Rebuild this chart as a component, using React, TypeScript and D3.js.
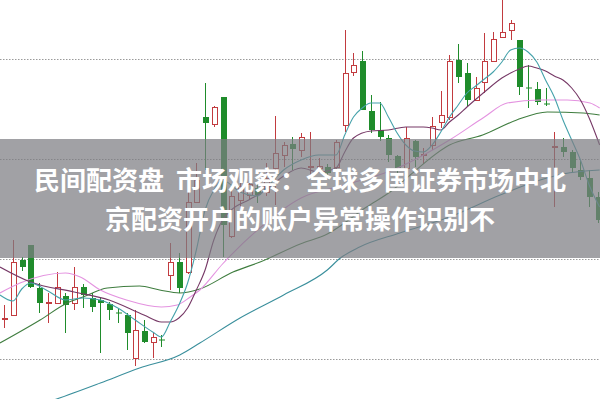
import React from 'react';
import * as d3 from 'd3';

const W = 600;
const H = 399;

// OHLC values per trading day (index 0..68)
const opens = [
  8.05, 8.4, 13.9, 15.4, 11.1, 9.65, 9.6, 10.3, 9.6, 11.2,
  10.1, 9.9, 9.5, 8.65, 8.4, 4.1, 6.8, 5.7, 5.95, 12.4,
  13.7, 12.7, 19.7, 28.2, 27.5, 30.2, 16.3, 19.9, 20.4, 21.1,
  20.7, 23.1, 24.4, 25.5, 24.9, 23.15, 23.1, 23.2, 23.2, 27.4,
  32.7, 33.8, 28.8, 26.9, 26.1, 24.3, 23.1, 25.8, 24.35, 25.4,
  27.7, 28.2, 33.9, 32.6, 29.9, 31.7, 33.8, 36.2, 36.9, 35.9,
  31.15, 31.0, 29.55, 25.15, 25.2, 24.7, 22.9, 22.1, 20.2,
];
const closes = [
  8.15, 13.7, 13.2, 11.2, 9.6, 9.75, 11.2, 9.4, 11.2, 10.4,
  9.2, 9.6, 8.9, 8.55, 6.6, 6.9, 5.7, 6.2, 5.85, 13.7,
  11.1, 19.7, 21.9, 27.6, 29.2, 17.4, 20.3, 21.3, 21.5, 20.4,
  22.1, 24.6, 25.4, 25.0, 26.2, 23.25, 23.3, 22.6, 25.7, 32.6,
  33.4, 28.9, 26.9, 26.2, 24.4, 23.1, 26.1, 24.2, 24.45, 27.3,
  28.4, 33.8, 32.2, 29.9, 31.1, 33.8, 36.0, 36.7, 37.6, 31.2,
  31.05, 29.7, 29.45, 25.25, 24.7, 23.1, 22.2, 20.2, 17.9,
];
const highs = [
  9.4, 15.9, 14.2, 15.4, 11.6, 10.6, 12.7, 10.6, 13.2, 11.5,
  10.6, 10.2, 9.7, 9.0, 8.6, 8.9, 7.9, 6.6, 6.4, 15.6,
  14.6, 21.1, 23.6, 31.6, 29.3, 30.2, 21.2, 21.9, 22.3, 21.6,
  23.6, 28.3, 25.7, 26.2, 26.6, 26.7, 24.1, 23.5, 25.9, 36.9,
  34.6, 34.8, 30.4, 29.7, 26.4, 24.4, 27.2, 25.9, 25.1, 28.2,
  30.8, 34.4, 35.5, 33.6, 32.2, 36.6, 36.7, 40.2, 37.9, 35.9,
  33.4, 31.7, 31.1, 26.7, 26.1, 24.9, 23.9, 22.9, 20.7,
];
const lows = [
  7.1, 8.3, 12.8, 11.1, 8.6, 7.6, 9.5, 6.6, 8.9, 9.1,
  8.7, 4.6, 7.9, 7.6, 4.9, 3.3, 5.6, 4.1, 5.2, 10.9,
  10.6, 12.5, 19.6, 22.9, 27.2, 14.2, 16.1, 18.9, 19.9, 19.6,
  20.3, 19.4, 23.2, 22.9, 24.2, 22.4, 22.7, 22.3, 22.9, 26.7,
  32.3, 28.9, 26.6, 25.8, 23.7, 21.9, 22.9, 23.2, 23.5, 24.9,
  27.1, 27.9, 31.6, 29.2, 29.8, 30.6, 33.7, 36.1, 35.9, 30.4,
  29.1, 29.4, 29.3, 19.2, 24.2, 22.7, 21.9, 19.2, 17.6,
];

// moving-average readings: [day index, value]
const ma5: [number, number][] = [
  [-0.5, 10.4], [1, 9.8], [2, 11.0], [3, 11.6], [5, 10.8], [7, 9.9], [9, 10.1], [11, 9.9],
  [13, 9.1], [15, 7.9], [17, 6.7], [18, 6.2], [19, 7.7], [20, 9.4], [21, 11.6], [22, 14.9],
  [23, 18.9], [24, 20.9], [25, 21.9], [26, 21.4], [27, 20.7], [29, 20.3], [30, 21.1], [32, 22.9],
  [34, 23.9], [36, 24.4], [38, 24.4], [39, 26.4], [40, 28.2], [41, 29.1], [42, 29.6], [43, 29.6],
  [44, 28.2], [45, 26.6], [46, 25.4], [47, 24.8], [48, 24.7], [49, 25.4], [50, 26.7], [51, 28.2],
  [52, 29.4], [53, 30.6], [54, 31.3], [55, 32.0], [56, 32.7], [57, 33.7], [58, 34.9], [59, 35.1],
  [60, 34.7], [61, 33.7], [62, 31.9], [63, 30.2], [64, 27.9], [65, 25.9], [66, 23.9], [67, 21.4],
  [68.2, 19.2],
];
const ma10: [number, number][] = [
  [-0.5, 13.2], [3, 11.7], [8, 10.7], [12, 9.9], [16, 8.4], [18, 7.7], [19, 7.7], [20, 8.1],
  [21, 9.1], [22, 10.9], [23, 12.9], [24, 15.9], [25, 17.9], [26, 18.9], [28, 19.9], [30, 20.9],
  [32, 22.3], [34, 23.1], [36, 22.7], [38, 23.1], [39, 24.7], [40, 26.1], [42, 26.8], [44, 26.9],
  [46, 27.2], [48, 27.2], [49, 27.1], [50, 26.9], [51, 27.7], [52, 28.4], [53, 29.2], [55, 30.7],
  [57, 32.1], [58, 32.6], [59, 33.0], [60, 33.3], [61, 33.1], [62, 32.8], [63, 32.3], [64, 31.9],
  [65, 31.1], [66, 29.9], [67, 28.1], [68.2, 25.4],
];
const ma20: [number, number][] = [
  [-0.5, 10.6], [1.8, 11.6], [7, 12.6], [8.7, 12.2], [11, 10.9], [14, 9.9], [18, 9.2], [19.8, 9.4],
  [21.3, 10.2], [22.4, 10.9], [25, 13.5], [29, 16.9], [34, 20.1], [39, 21.4], [44.5, 22.9], [51, 25.9],
  [55, 28.2], [57.6, 29.6], [61.4, 29.9], [64.5, 29.9], [67.1, 29.6], [68.2, 29.1],
];
const ma30: [number, number][] = [
  [-0.5, 5.6], [4.1, 7.9], [7.2, 9.6], [9, 10.2], [11.8, 11.1], [15.5, 11.3], [17.8, 10.9], [20.1, 10.6],
  [22.4, 11.0], [26.2, 12.7], [29.3, 13.7], [33.9, 15.5], [37, 16.5], [41.5, 19.2], [44.5, 20.9],
  [46.5, 22.4], [51, 25.4], [54.8, 26.4], [58.7, 27.9], [62.2, 28.7], [66.3, 28.6], [68.2, 28.4],
];
const ma60: [number, number][] = [
  [5, -0.3], [6, 0.0], [11, 1.6], [15.5, 3.1], [20.1, 4.4], [22.4, 5.6], [27, 8.1], [32, 10.4],
  [37, 12.9], [38.5, 14.1], [40.7, 15.2], [45.3, 16.6], [51, 18.2], [56.8, 20.4], [61.4, 21.9],
  [64, 22.5], [68.2, 22.9],
];

const gridLevels = [4, 14, 24, 34];
const titleLines = ['民间配资盘  市场观察：全球多国证券市场中北', '京配资开户的账户异常操作识别不'];

const UP = '#c23b3f';
const DOWN = '#1f8c2b';

const maSeries = [
  { data: ma60, color: '#3a8f9c' },
  { data: ma30, color: '#3f7d3f' },
  { data: ma20, color: '#e493e0' },
  { data: ma10, color: '#763866' },
  { data: ma5, color: '#45a2ab' },
];

export default function App() {
  const x = d3.scaleLinear().domain([0, 68]).range([4.3, 597.9]);
  const y = d3.scaleLinear().domain([0, 39.9]).range([399, 0]);
  const line = d3
    .line<[number, number]>()
    .x((d) => x(d[0]))
    .y((d) => y(d[1]))
    .curve(d3.curveMonotoneX);

  return (
    <svg
      width={W}
      height={H}
      style={{ position: 'fixed', left: 0, top: 0, background: '#fff' }}
      xmlns="http://www.w3.org/2000/svg"
    >
      <rect x={0} y={0} width={W} height={H} fill="#fff" />
      {gridLevels.map((g) => (
        <line
          key={g}
          x1={0}
          x2={W}
          y1={Math.round(y(g)) + 0.5}
          y2={Math.round(y(g)) + 0.5}
          stroke="#9a9a9a"
          strokeWidth={1}
          strokeDasharray="1.5,1.5"
        />
      ))}
      {opens.map((o, i) => {
        const c = closes[i];
        const up = c >= o;
        const col = up ? UP : DOWN;
        const cx = Math.round(x(i));
        const top = y(Math.max(o, c));
        const bot = y(Math.min(o, c));
        const h = Math.max(1, bot - top);
        return (
          <g key={i}>
            <line x1={cx + 0.5} x2={cx + 0.5} y1={y(highs[i])} y2={y(lows[i])} stroke={col} strokeWidth={1} />
            {up ? (
              <rect x={cx - 2 + 0.5} y={Math.round(top) + 0.5} width={5} height={Math.max(0.5, Math.round(h))} fill="#fff" stroke={col} strokeWidth={1} />
            ) : (
              <rect x={cx - 2} y={top} width={6} height={h} fill={col} />
            )}
          </g>
        );
      })}
      {maSeries.map((s, k) => (
        <path key={k} d={line(s.data) || ''} fill="none" stroke={s.color} strokeWidth={1.1} />
      ))}
      <rect x={0} y={139} width={W} height={119} fill="rgb(125,125,130)" fillOpacity={0.72} />
      {titleLines.map((t, k) => (
        <text
          key={k}
          x={300}
          y={190 + k * 38.5}
          textAnchor="middle"
          fill="#fff"
          fontFamily="'Noto Sans CJK SC', 'Noto Sans', sans-serif"
          fontWeight="bold"
          fontSize={26}
          style={{ whiteSpace: 'pre' }}
        >
          {t}
        </text>
      ))}
    </svg>
  );
}
